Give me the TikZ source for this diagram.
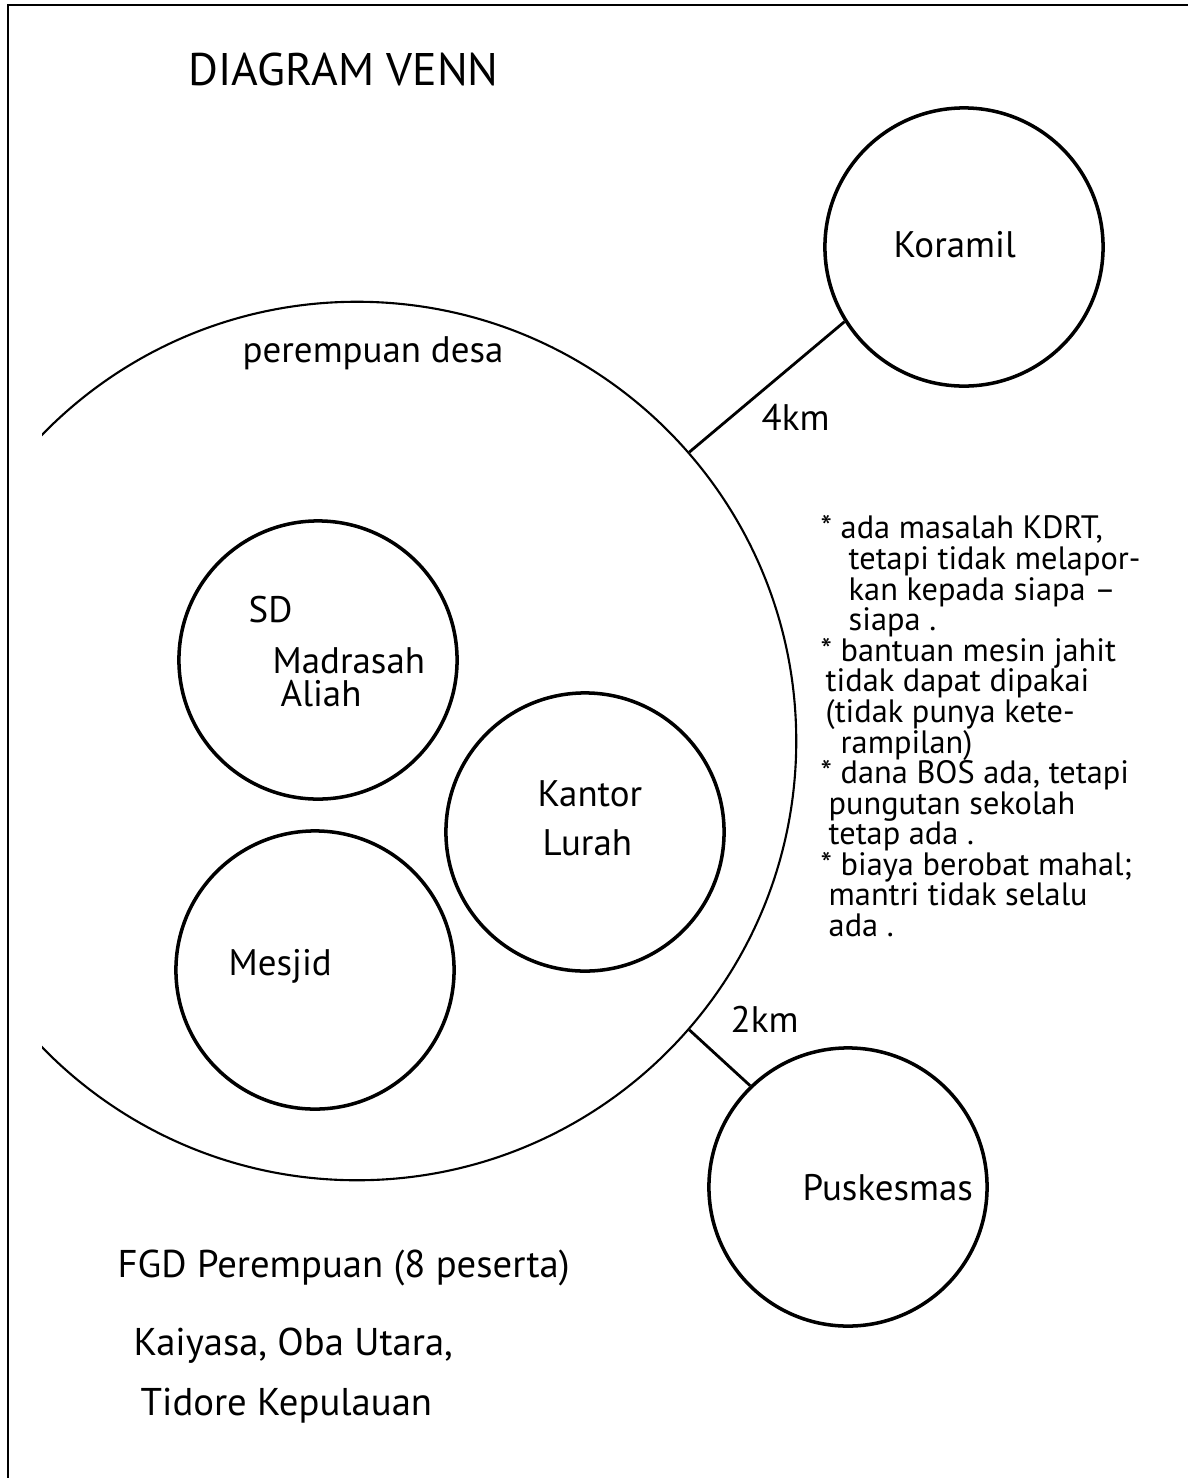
\documentclass[tikz,border=0pt]{standalone}
\usepackage{fontspec}
\setmainfont{PT Sans}
\usetikzlibrary{positioning}

\begin{document}
\begin{tikzpicture}[x=0.01cm, y=-0.01cm,
  every node/.style={font=\fontsize{10.5}{12}\selectfont},
  place/.style={draw, circle, line width=1pt, minimum size=2.78cm, inner sep=0pt},
  lbl/.style={anchor=base west, inner sep=0pt},
  note/.style={font=\fontsize{9.2}{8.7}\selectfont, align=left, anchor=north west, inner sep=0pt},
  bigtext/.style={font=\fontsize{11}{14}\selectfont, anchor=base west, inner sep=0pt},
  link/.style={line width=0.8pt}]
\useasboundingbox (0,0) rectangle (1188,1478);
\draw[line width=0.6pt] (8,1478) -- (8,5) -- (1188,5);

\node[lbl, font=\fontsize{13}{15}\selectfont] (title) at (188,85) {DIAGRAM VENN};

% outer circle, open on the left
\begin{scope}
\clip (42,0) rectangle (1188,1478);
\node[draw, circle, line width=0.6pt, minimum size=8.78cm] (desa) at (357,741) {};
\end{scope}
\node[lbl] (desalbl) at (242,362) {perempuan desa};

\node[place] (sd) at (318,660) {};
\node[place] (kantor) at (585,832) {};
\node[place] (mesjid) at (315,970) {};
\node[place] (koramil) at (964,247) {};
\node[place] (puskesmas) at (848,1187) {};

\node[lbl] (sdlbl) at (248,622) {SD};
\node[lbl] (madrasah) at (272,673) {Madrasah};
\node[lbl] (aliah) at (280,706) {Aliah};
\node[lbl] (kantorlbl) at (537,806) {Kantor};
\node[lbl] (lurah) at (542,855) {Lurah};
\node[lbl] (mesjidlbl) at (228,975) {Mesjid};
\node[lbl] (koramillbl) at (893,257) {Koramil};
\node[lbl] (puskesmaslbl) at (802,1200) {Puskesmas};

\draw[link] (koramil.212) -- (desa.41);
\draw[link] (puskesmas.134) -- (desa.319);
\node[lbl] (km4) at (761,430) {4km};
\node[lbl] (km2) at (730,1032) {2km};

% notes on the right
\node[note] (notes) at (820,515) {* ada masalah KDRT,\\
  \hspace*{0.28cm}tetapi tidak melapor-\\
  \hspace*{0.28cm}kan kepada siapa –\\
  \hspace*{0.28cm}siapa .\\
  * bantuan mesin jahit\\
  \hspace*{0.05cm}tidak dapat dipakai\\
  \hspace*{0.05cm}(tidak punya kete-\\
  \hspace*{0.2cm}rampilan)\\
  * dana BOS ada, tetapi\\
  \hspace*{0.08cm}pungutan sekolah\\
  \hspace*{0.08cm}tetap ada .\\
  * biaya berobat mahal;\\
  \hspace*{0.08cm}mantri tidak selalu\\
  \hspace*{0.08cm}ada .};

\node[bigtext] (fgd) at (117,1277) {FGD Perempuan (8 peserta)};
\node[bigtext] (place1) at (133,1355) {Kaiyasa, Oba Utara,};
\node[bigtext] (place2) at (140,1415) {Tidore Kepulauan};
\end{tikzpicture}
\end{document}
